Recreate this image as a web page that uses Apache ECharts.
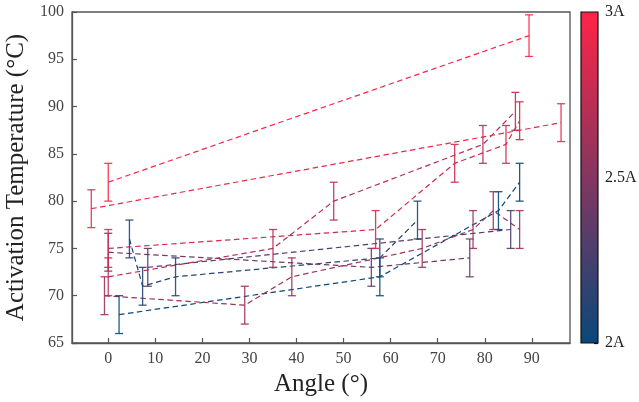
<!DOCTYPE html>
<html>
<head>
<meta charset="utf-8">
<script src="https://cdn.jsdelivr.net/npm/echarts/dist/echarts.min.js"></script>
<style>
  html, body { margin: 0; padding: 0; background: #fff; }
  #chart { width: 639px; height: 402px; }
</style>
</head>
<body>
<div id="chart"></div>
<script>
// Activation temperature runs: each point is [angle (deg), temperature (C), error (C)]
const run300 = [[0, 82, 2], [89.4, 97.5, 2.2]];
const run292 = [[-3.6, 79.2, 2], [96.2, 88.3, 2]];
const run282 = [[0, 75, 2], [56.8, 77, 2], [73.6, 84, 2], [84.5, 86, 2], [87.4, 88.5, 2]];
const run272 = [[0, 72, 2], [35, 75, 2], [47.9, 80, 2], [79.6, 86, 2], [86.5, 89.5, 2]];
const run260 = [[-0.8, 70, 2], [29, 69, 2], [39, 72, 2], [66.7, 75, 2], [77.5, 77, 2], [81.8, 79, 2], [87.4, 77, 2]];
const run242 = [[0, 74.6, 2], [55.9, 73, 2], [76.8, 74, 2]];
const run230 = [[8.4, 73, 2], [85.5, 77, 2]];
const run212 = [[4.5, 76, 2], [7.3, 71, 2], [14.3, 72, 2], [57.7, 74, 2], [65.7, 78, 2]];
const run200 = [[2.3, 68, 2], [57.7, 72, 2], [82.9, 79, 2], [87.4, 82, 2]];

// Drive current (A) of each run
const runCurrents = [2.0, 2.12, 2.3, 2.42, 2.6, 2.72, 2.82, 2.92, 3.0];
const runs = [run200, run212, run230, run242, run260, run272, run282, run292, run300];

const angleTicks = [0, 10, 20, 30, 40, 50, 60, 70, 80, 90];
const currentLabels = [2, 2.5, 3];

// Colour map: 2A (blue) -> 3A (red)
const LO = [8, 72, 122];
const HI = [255, 36, 70];
function currentColor(c) {
  const t = Math.max(0, Math.min(1, (c - 2) / 1));
  const ch = LO.map((v, i) => Math.round(v + (HI[i] - v) * t));
  return 'rgb(' + ch.join(',') + ')';
}

const FONT = '"Liberation Serif", "DejaVu Serif", serif';
const chart = echarts.init(document.getElementById('chart'), null, { renderer: 'canvas' });

function errorBarRender(color) {
  return function (params, api) {
    const x = api.value(0), y = api.value(1), e = api.value(2);
    const top = api.coord([x, y + e]);
    const bot = api.coord([x, y - e]);
    const hw = 4;
    const style = { stroke: color, lineWidth: 1.3, fill: null, opacity: 0.9 };
    return {
      type: 'group',
      children: [
        { type: 'line', shape: { x1: top[0], y1: top[1], x2: bot[0], y2: bot[1] }, style: style },
        { type: 'line', shape: { x1: top[0] - hw, y1: top[1], x2: top[0] + hw, y2: top[1] }, style: style },
        { type: 'line', shape: { x1: bot[0] - hw, y1: bot[1], x2: bot[0] + hw, y2: bot[1] }, style: style }
      ]
    };
  };
}

const series = [];
runs.forEach((pts, i) => {
  const col = currentColor(runCurrents[i]);
  series.push({
    type: 'line',
    xAxisIndex: 0, yAxisIndex: 0,
    data: pts.map(p => [p[0], p[1]]),
    symbol: 'none',
    lineStyle: { color: col, width: 1.2, type: [5.5, 3.5] },
    silent: true, animation: false, z: 2
  });
  series.push({
    type: 'custom',
    xAxisIndex: 0, yAxisIndex: 0,
    data: pts,
    renderItem: errorBarRender(col),
    silent: true, animation: false, z: 3
  });
});

// Colour bar drawn in its own grid
series.push({
  type: 'custom',
  xAxisIndex: 1, yAxisIndex: 1,
  data: [[0, 2, 1, 3]],
  renderItem: function (params, api) {
    const p0 = api.coord([api.value(0), api.value(3)]);
    const p1 = api.coord([api.value(2), api.value(1)]);
    return {
      type: 'rect',
      shape: { x: p0[0], y: p0[1], width: p1[0] - p0[0], height: p1[1] - p0[1] },
      style: {
        fill: new echarts.graphic.LinearGradient(0, 0, 0, 1, [
          { offset: 0, color: currentColor(3) },
          { offset: 0.5, color: currentColor(2.5) },
          { offset: 1, color: currentColor(2) }
        ]),
        stroke: '#111', lineWidth: 1.2
      }
    };
  },
  silent: true, animation: false, z: 1
});

const axisLineStyle = { color: '#555', width: 1.3 };

chart.setOption({
  animation: false,
  backgroundColor: '#fff',
  grid: [
    { left: 72, top: 12, width: 498, height: 331, show: true, borderColor: '#555', borderWidth: 1.3,
      containLabel: false, outerBoundsMode: 'none' },
    { left: 581, top: 12, width: 17, height: 331, containLabel: false, outerBoundsMode: 'none' }
  ],
  xAxis: [
    {
      type: 'value', gridIndex: 0, min: -7.7, max: 98.1,
      name: 'Angle (°)', nameLocation: 'middle', nameGap: 27,
      nameTextStyle: { fontFamily: FONT, fontSize: 25, color: '#222' },
      axisLine: { show: true, onZero: false, lineStyle: axisLineStyle },
      axisTick: { show: true, inside: true, length: 5, customValues: angleTicks, lineStyle: { color: '#555', width: 1.2 } },
      axisLabel: { customValues: angleTicks, fontFamily: FONT, fontSize: 16, color: '#444', margin: 8 },
      splitLine: { show: false }
    },
    { type: 'value', gridIndex: 1, min: 0, max: 1, show: false }
  ],
  yAxis: [
    {
      type: 'value', gridIndex: 0, min: 65, max: 100, interval: 5,
      name: 'Activation Temperature (°C)', nameLocation: 'middle', nameGap: 40, nameRotate: 90,
      nameTextStyle: { fontFamily: FONT, fontSize: 25, color: '#222' },
      axisLine: { show: true, onZero: false, lineStyle: axisLineStyle },
      axisTick: { show: true, inside: true, length: 5, lineStyle: { color: '#555', width: 1.2 } },
      axisLabel: { fontFamily: FONT, fontSize: 16, color: '#444', margin: 8 },
      splitLine: { show: false }
    },
    {
      type: 'value', gridIndex: 1, min: 2, max: 3, interval: 0.1, position: 'right',
      axisLine: { show: false, onZero: false },
      axisTick: { show: true, inside: true, length: 4, lineStyle: { color: '#111', width: 1.2 } },
      axisLabel: {
        customValues: currentLabels, fontFamily: FONT, fontSize: 16, color: '#222', margin: 7,
        formatter: v => v + 'A'
      },
      splitLine: { show: false }
    }
  ],
  series: series
});
</script>
</body>
</html>
